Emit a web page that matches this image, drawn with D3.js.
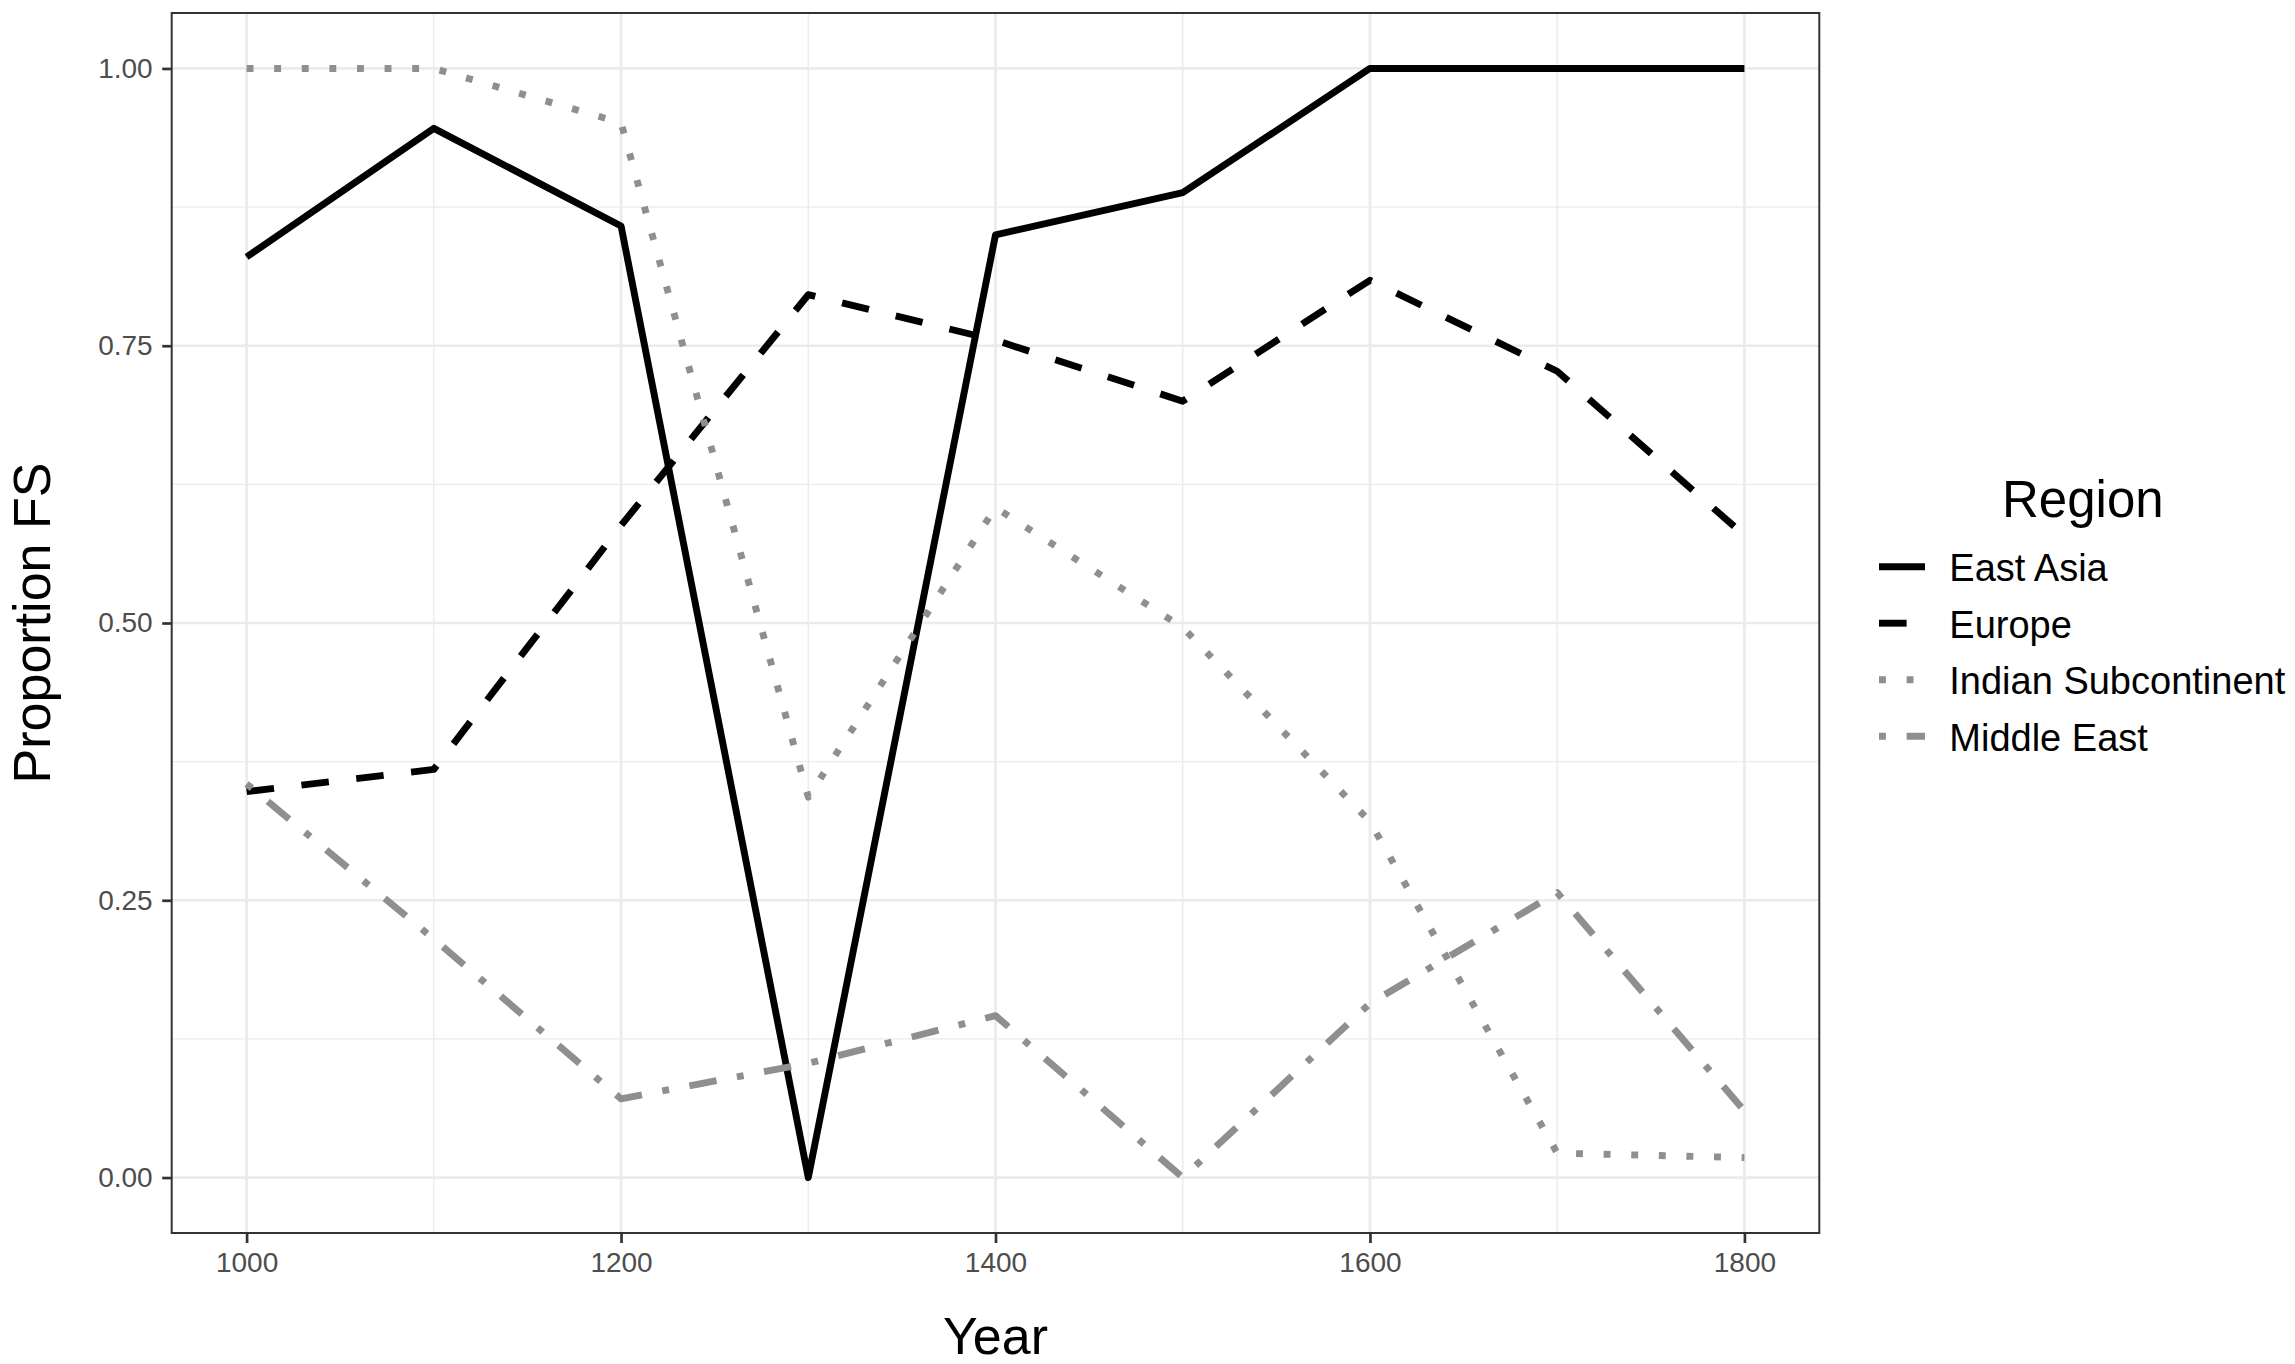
<!DOCTYPE html>
<html>
<head>
<meta charset="utf-8">
<script src="https://cdn.jsdelivr.net/npm/d3@7"></script>
<style>
  body { margin: 0; background: #fff; }
  svg text { font-family: "Liberation Sans", Arial, sans-serif; }
</style>
</head>
<body>
<svg id="chart" width="2295" height="1364"></svg>
<script>
const years      = [1000, 1100, 1200, 1300, 1400, 1500, 1600, 1700, 1800];
const eastAsia   = [0.830, 0.946, 0.858, 0.000, 0.850, 0.888, 1.000, 1.000, 1.000];
const europe     = [0.348, 0.368, 0.588, 0.796, 0.755, 0.700, 0.809, 0.727, 0.579];
const indian     = [1.000, 1.000, 0.951, 0.343, 0.604, 0.496, 0.321, 0.022, 0.018];
const middleEast = [0.355, 0.215, 0.071, 0.103, 0.146, 0.000, 0.157, 0.257, 0.060];
const regions    = ["East Asia", "Europe", "Indian Subcontinent", "Middle East"];
const xTicks     = [1000, 1200, 1400, 1600, 1800];
const xMinor     = [1100, 1300, 1500, 1700];
const yTicks     = [0, 0.25, 0.5, 0.75, 1];
const yMinor     = [0.125, 0.375, 0.625, 0.875];

const u = 6.9; // ggplot dash unit = line width
const styles = {
  "East Asia":           {color: "#000000", dash: null},
  "Europe":              {color: "#000000", dash: `${4*u},${4*u}`},
  "Indian Subcontinent": {color: "#8f8f8f", dash: `${u},${3*u}`},
  "Middle East":         {color: "#8f8f8f", dash: `${u},${3*u},${4*u},${3*u}`}
};
const series = [eastAsia, europe, indian, middleEast].map((vals, i) => ({
  name: regions[i],
  values: years.map((yr, j) => ({year: yr, value: vals[j]}))
}));

const svg    = d3.select("#chart"),
      panel  = {left: 171.7, right: 1819.3, top: 13, bottom: 1233},
      x      = d3.scaleLinear().domain([960, 1840]).range([panel.left, panel.right]),
      y      = d3.scaleLinear().domain([-0.05, 1.05]).range([panel.bottom, panel.top]);

// gridlines
const grid = svg.append("g");
grid.selectAll(".vminor").data(xMinor).enter().append("line")
    .attr("x1", d => x(d)).attr("x2", d => x(d))
    .attr("y1", panel.top).attr("y2", panel.bottom)
    .attr("stroke", "#ebebeb").attr("stroke-width", 1.4);
grid.selectAll(".hminor").data(yMinor).enter().append("line")
    .attr("x1", panel.left).attr("x2", panel.right)
    .attr("y1", d => y(d)).attr("y2", d => y(d))
    .attr("stroke", "#ebebeb").attr("stroke-width", 1.4);
grid.selectAll(".vmajor").data(xTicks).enter().append("line")
    .attr("x1", d => x(d)).attr("x2", d => x(d))
    .attr("y1", panel.top).attr("y2", panel.bottom)
    .attr("stroke", "#ebebeb").attr("stroke-width", 2.7);
grid.selectAll(".hmajor").data(yTicks).enter().append("line")
    .attr("x1", panel.left).attr("x2", panel.right)
    .attr("y1", d => y(d)).attr("y2", d => y(d))
    .attr("stroke", "#ebebeb").attr("stroke-width", 2.7);

// lines
const line = d3.line().x(d => x(d.year)).y(d => y(d.value));
svg.append("g").selectAll("path")
  .data(series)
  .enter().append("path")
    .attr("d", d => line(d.values))
    .attr("fill", "none")
    .attr("stroke", d => styles[d.name].color)
    .attr("stroke-width", u)
    .attr("stroke-linejoin", "round")
    .attr("stroke-linecap", "butt")
    .attr("stroke-dasharray", d => styles[d.name].dash);

// panel border
svg.append("rect")
    .attr("x", panel.left).attr("y", panel.top)
    .attr("width", panel.right - panel.left)
    .attr("height", panel.bottom - panel.top)
    .attr("fill", "none")
    .attr("stroke", "#333333")
    .attr("stroke-width", 2);

// axes
const xAxis = svg.append("g")
    .attr("transform", `translate(0,${panel.bottom})`)
    .call(d3.axisBottom(x).tickValues(xTicks).tickSize(10).tickPadding(9).tickFormat(d3.format("d")));
const yAxis = svg.append("g")
    .attr("transform", `translate(${panel.left},0)`)
    .call(d3.axisLeft(y).tickValues(yTicks).tickSize(9.5).tickPadding(9.5).tickFormat(d3.format(".2f")));
[xAxis, yAxis].forEach(a => {
  a.select(".domain").remove();
  a.selectAll(".tick line").attr("stroke", "#333333").attr("stroke-width", 2.7);
  a.selectAll(".tick text")
    .attr("fill", "#4d4d4d")
    .style("font-size", "28px")
    .style("font-family", "'Liberation Sans', Arial, sans-serif");
});

// axis titles
svg.append("text")
    .attr("x", (panel.left + panel.right) / 2)
    .attr("y", 1354)
    .attr("text-anchor", "middle")
    .style("font-size", "52px")
    .text("Year");

svg.append("text")
    .attr("transform", `translate(50,${(panel.top + panel.bottom) / 2}) rotate(-90)`)
    .attr("text-anchor", "middle")
    .style("font-size", "52px")
    .text("Proportion FS");

// legend
const legend = svg.append("g");
legend.append("text")
    .attr("x", 2002)
    .attr("y", 516.7)
    .style("font-size", "51px")
    .text("Region");

const keys = legend.selectAll(".key")
  .data(regions)
  .enter().append("g")
    .attr("transform", (d, i) => `translate(1879,${566.7 + i * 56.5})`);
keys.append("line")
    .attr("x1", 0).attr("x2", 46)
    .attr("y1", 0).attr("y2", 0)
    .attr("stroke", d => styles[d].color)
    .attr("stroke-width", u)
    .attr("stroke-linecap", "butt")
    .attr("stroke-dasharray", d => styles[d].dash);
keys.append("text")
    .attr("x", 70.3)
    .attr("y", 14.5)
    .style("font-size", "38px")
    .text(d => d);
</script>
</body>
</html>
